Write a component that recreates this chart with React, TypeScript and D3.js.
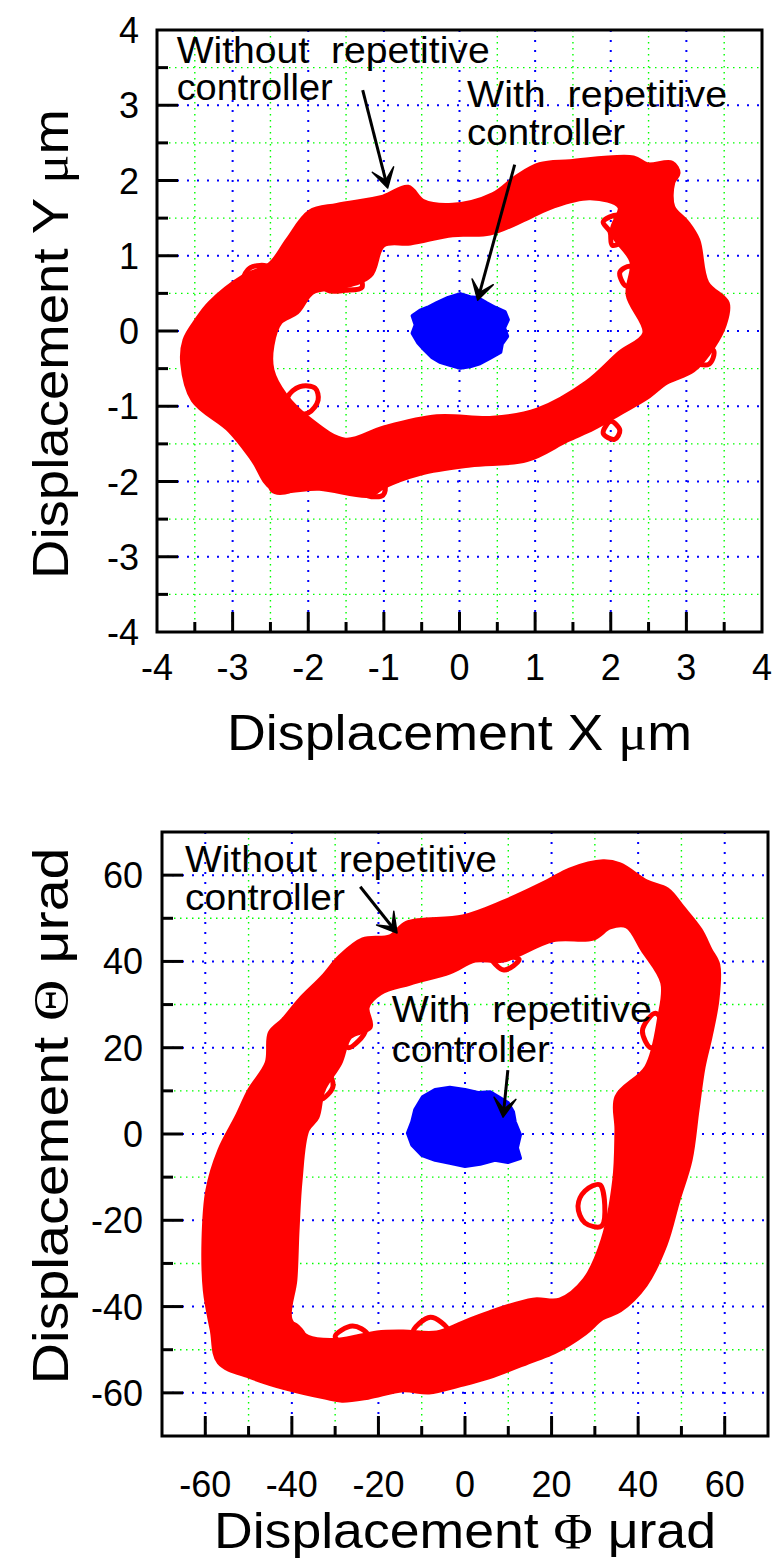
import React, { useEffect } from 'react';
import * as d3 from 'd3';

type Pt = [number, number];

// ---- panel 1: displacement X / Y (um) ----
const xyMajor = [-4, -3, -2, -1, 0, 1, 2, 3, 4];
const xyMinor = [-3.5, -2.5, -1.5, -0.5, 0.5, 1.5, 2.5, 3.5];

// outer edge of the red band (without repetitive controller)
const xyOuter: Pt[] = [
  [-3.47, 0.15], [-3.3, 0.37], [-2.86, 0.72], [-2.51, 0.88], [-2.27, 1.21], [-1.98, 1.58],
  [-1.62, 1.67], [-1.01, 1.78], [-0.68, 1.91], [-0.48, 1.72], [-0.09, 1.67], [0.44, 1.81],
  [0.76, 2.05], [1.06, 2.21], [1.46, 2.25], [2.3, 2.3], [2.48, 2.21], [2.81, 2.23],
  [2.89, 2.1], [2.82, 1.97], [2.82, 1.65], [3.01, 1.44], [3.15, 1.21], [3.27, 0.64],
  [3.54, 0.37], [3.5, 0.08], [3.35, -0.21], [3.09, -0.52], [2.74, -0.68], [2.48, -0.88],
  [2.12, -1.09], [1.77, -1.29], [1.42, -1.45], [0.89, -1.71], [0.14, -1.78], [-0.52, -1.89],
  [-1.01, -2.07], [-1.18, -2.18], [-1.85, -2.09], [-2.47, -2.09], [-2.73, -1.71],
  [-3.04, -1.32], [-3.52, -0.92], [-3.66, -0.43], [-3.63, -0.12],
];
// inner edge (hole)
const xyInner: Pt[] = [
  [-2.48, -0.19], [-2.37, 0.12], [-2.15, 0.25], [-1.94, 0.52], [-1.58, 0.58], [-1.18, 0.74],
  [-1.01, 1.14], [-0.65, 1.17], [-0.09, 1.28], [0.4, 1.3], [0.89, 1.5], [1.24, 1.66],
  [1.73, 1.77], [2.12, 1.65], [2.02, 1.32], [2.28, 0.92], [2.23, 0.48], [2.45, -0.03],
  [2.12, -0.29], [1.69, -0.68], [1.03, -1.05], [0.44, -1.16], [-0.3, -1.14], [-1.01, -1.29],
  [-1.51, -1.45], [-1.98, -1.18], [-2.31, -0.85], [-2.48, -0.52],
];
// small loops sticking out of the band
const xyLoops: Pt[][] = [
  [[-2.27, -0.88], [-2.11, -0.74], [-1.91, -0.76], [-1.87, -0.92], [-2.0, -1.09], [-2.2, -1.08]],
  [[-2.51, -1.82], [-2.34, -1.85], [-2.15, -2.05], [-2.31, -2.14], [-2.48, -2.11], [-2.51, -1.9]],
  [[-1.36, -2.07], [-1.16, -2.01], [-0.99, -2.05], [-1.01, -2.18], [-1.21, -2.19]],
  [[-2.24, 1.21], [-2.04, 1.29], [-1.87, 1.21], [-1.98, 1.05], [-2.18, 1.08]],
  [[-2.86, 0.68], [-2.77, 0.84], [-2.53, 0.85], [-2.61, 0.61], [-2.81, 0.57]],
  [[-1.81, 0.64], [-1.58, 0.72], [-1.34, 0.74], [-1.29, 0.58], [-1.51, 0.54], [-1.74, 0.54]],
  [[1.99, 1.32], [1.9, 1.45], [2.1, 1.54], [2.28, 1.41], [2.19, 1.21], [2.02, 1.14]],
  [[2.0, -1.2], [2.12, -1.32], [2.05, -1.44], [1.9, -1.36]],
  [[3.1, -0.2], [3.36, -0.26], [3.3, -0.44], [3.08, -0.4]],
  [[2.2, 0.6], [2.12, 0.78], [2.26, 0.86], [2.34, 0.7]],
  [[-3.55, -0.75], [-3.4, -0.62], [-3.3, -0.82], [-3.46, -0.95]],
];
// blue cluster (with repetitive controller)
const xyBlue: Pt[] = [
  [0.01, 0.49], [0.14, 0.45], [0.24, 0.44], [0.36, 0.37], [0.47, 0.31], [0.6, 0.25],
  [0.64, 0.15], [0.59, 0.04], [0.63, -0.07], [0.56, -0.17], [0.54, -0.28], [0.4, -0.36],
  [0.27, -0.43], [0.14, -0.47], [0.01, -0.49], [-0.13, -0.45], [-0.26, -0.41], [-0.36, -0.35],
  [-0.46, -0.25], [-0.55, -0.15], [-0.62, -0.03], [-0.58, 0.08], [-0.62, 0.2], [-0.52, 0.27],
  [-0.42, 0.31], [-0.3, 0.37], [-0.15, 0.44],
];

// ---- panel 2: displacement Phi / Theta (urad) ----
const angMajor = [-60, -40, -20, 0, 20, 40, 60];
const angMinor = [-50, -30, -10, 10, 30, 50];

const angOuter: Pt[] = [
  [-52.7, 3.9], [-49.7, 10.2], [-45.7, 16.5], [-45.0, 23.4], [-42.0, 26.4], [-38.1, 31.1],
  [-32.8, 36.4], [-28.9, 41.0], [-23.6, 45.0], [-17.3, 45.7], [-13.4, 48.9], [-0.5, 50.3],
  [8.8, 53.7], [18.9, 58.4], [24.2, 61.2], [31.9, 63.1], [35.8, 62.4], [42.0, 58.4],
  [46.7, 56.6], [50.3, 52.4], [54.3, 47.3], [56.6, 42.7], [58.4, 39.2], [58.2, 31.1],
  [56.6, 22.5], [55.0, 15.5], [53.6, 5.6], [52.0, -6.0], [49.2, -15.3], [46.2, -25.7],
  [41.6, -35.0], [35.8, -40.8], [31.6, -42.7], [27.7, -46.1], [20.6, -50.5], [15.7, -52.4],
  [5.5, -56.3], [-1.4, -58.2], [-8.3, -59.8], [-14.3, -59.3], [-22.4, -61.0], [-28.4, -61.7],
  [-32.3, -61.0], [-41.3, -58.9], [-49.4, -56.3], [-56.8, -52.9], [-58.4, -45.4],
  [-60.0, -36.2], [-60.3, -24.6], [-59.4, -13.0], [-56.6, -3.7],
];
const angInner: Pt[] = [
  [-36.5, 0.9], [-34.2, 3.9], [-32.8, 10.2], [-28.9, 16.5], [-26.6, 22.5], [-21.9, 24.8],
  [-22.6, 29.4], [-19.6, 32.7], [-12.7, 35.0], [-3.5, 37.6], [2.3, 40.3], [8.8, 40.3],
  [20.3, 45.0], [29.6, 45.4], [33.5, 48.0], [37.4, 48.2], [41.1, 42.7], [45.7, 35.0],
  [45.0, 27.1], [42.0, 15.5], [35.1, 8.6], [35.1, 0.9], [34.6, -10.7], [31.9, -24.6],
  [27.7, -33.8], [21.9, -38.5], [15.7, -38.5], [5.5, -41.5], [-0.5, -43.8], [-6.5, -46.1],
  [-14.3, -45.9], [-20.3, -46.1], [-29.3, -47.8], [-36.3, -47.1], [-40.4, -43.1],
  [-39.3, -33.8], [-38.8, -22.3], [-38.1, -10.7],
];
const angLoops: Pt[][] = [
  [[31.2, -11.8], [27.7, -13.2], [26.1, -16.7], [27.7, -20.6], [31.6, -21.3]],
  [[-30.0, -47.0], [-26.0, -44.5], [-22.5, -46.5], [-24.0, -50.0]],
  [[6.0, 41.0], [9.0, 38.0], [12.5, 40.5]],
  [[-44.0, -47.0], [-40.0, -44.0], [-37.0, -47.5], [-40.5, -50.0]],
  [[-12.0, -46.0], [-8.0, -42.5], [-4.0, -45.5], [-8.0, -48.0]],
  [[-33.5, 8.0], [-30.5, 11.0], [-32.0, 14.5], [-35.0, 12.0]],
  [[-27.0, 20.0], [-23.0, 24.0], [-25.0, 27.0], [-28.0, 24.0]],
  [[43.0, 20.0], [46.0, 24.0], [44.0, 28.0], [41.0, 24.0]],
  [[-57.0, -30.0], [-53.0, -27.0], [-54.0, -22.0], [-58.0, -24.0]],
];
const angBlue: Pt[] = [
  [-9.7, 8.6], [-6.9, 10.2], [-3.5, 10.7], [0, 10.2], [3.0, 9.5], [5.8, 9.7], [8.1, 8.3],
  [9.9, 7.2], [11.1, 5.1], [11.5, 2.8], [12.7, -0.2], [12.0, -3.2], [12.7, -5.6], [9.9, -6.5],
  [6.9, -6.0], [3.5, -6.9], [0, -7.4], [-3.5, -6.7], [-6.9, -6.0], [-9.9, -4.9],
  [-12.2, -2.5], [-13.2, 0.2], [-12.2, 2.8], [-11.5, 5.6],
];

const SANS = '"Liberation Sans", Arial, Helvetica, sans-serif';
const SERIF = '"Liberation Serif", "Times New Roman", serif';

interface Note { text: string; x: number; y: number; len: number }
interface Arrow { from: Pt; to: Pt }
interface PanelCfg {
  left: number; right: number; top: number; bottom: number;
  domain: [number, number];
  major: number[]; minor: number[];
  outer: Pt[]; inner: Pt[]; loops: Pt[][]; blue: Pt[];
  notes: Note[]; arrows: Arrow[];
  xTitle: [string, string, string]; yTitle: [string, string, string];
  xTitleY: number; xTitleLen: number; yTitleCy: number; yTitleLen: number;
  xLabelY: number; yLabelX: number;
}

const panels: PanelCfg[] = [
  {
    left: 157, right: 762, top: 30, bottom: 632, domain: [-4, 4],
    major: xyMajor, minor: xyMinor,
    outer: xyOuter, inner: xyInner, loops: xyLoops, blue: xyBlue,
    notes: [
      { text: 'Without\u00a0 repetitive', x: -3.74, y: 3.56, len: 313 },
      { text: 'controller', x: -3.74, y: 3.07, len: 156 },
      { text: 'With\u00a0 repetitive', x: 0.1, y: 2.98, len: 260 },
      { text: 'controller', x: 0.1, y: 2.47, len: 158 },
    ],
    arrows: [
      { from: [-1.28, 3.2], to: [-0.95, 1.9] },
      { from: [0.73, 2.21], to: [0.24, 0.41] },
    ],
    xTitle: ['Displacement X ', '\u03bc', 'm'],
    yTitle: ['Displacement Y ', '\u03bc', 'm'],
    xTitleY: 750, xTitleLen: 465, yTitleCy: 344, yTitleLen: 470,
    xLabelY: 680, yLabelX: 139,
  },
  {
    left: 162, right: 768, top: 832, bottom: 1436, domain: [-70, 70],
    major: angMajor, minor: angMinor,
    outer: angOuter, inner: angInner, loops: angLoops, blue: angBlue,
    notes: [
      { text: 'Without\u00a0 repetitive', x: -64.7, y: 60.7, len: 312 },
      { text: 'controller', x: -64.7, y: 51.9, len: 160 },
      { text: 'With\u00a0 repetitive', x: -16.9, y: 26.0, len: 260 },
      { text: 'controller', x: -16.9, y: 16.7, len: 158 },
    ],
    arrows: [
      { from: [-24.2, 57.3], to: [-15.7, 46.6] },
      { from: [9.9, 14.8], to: [8.8, 3.9] },
    ],
    xTitle: ['Displacement ', '\u03a6', ' \u03bcrad'],
    yTitle: ['Displacement ', '\u0398', ' \u03bcrad'],
    xTitleY: 1548, xTitleLen: 502, yTitleCy: 1116, yTitleLen: 537,
    xLabelY: 1497, yLabelX: 143,
  },
];

function ArrowMark({ a, x, y }: { a: Arrow; x: (v: number) => number; y: (v: number) => number }) {
  const x0 = x(a.from[0]), y0 = y(a.from[1]);
  const x1 = x(a.to[0]), y1 = y(a.to[1]);
  const d = Math.hypot(x1 - x0, y1 - y0);
  const ux = (x1 - x0) / d, uy = (y1 - y0) / d;
  const px = -uy, py = ux;
  const L = 19, W = 11, N = 8;
  const bx = x1 - L * ux, by = y1 - L * uy;
  const nx = x1 - N * ux, ny = y1 - N * uy;
  const head = `M${x1},${y1}L${bx + W * px},${by + W * py}L${nx},${ny}L${bx - W * px},${by - W * py}Z`;
  return (
    <g>
      <line x1={x0} y1={y0} x2={nx} y2={ny} stroke="#000" strokeWidth={3} />
      <path d={head} fill="#000" stroke="#000" strokeWidth={1.5} strokeLinejoin="round" />
    </g>
  );
}

function Panel({ c }: { c: PanelCfg }) {
  const x = d3.scaleLinear().domain(c.domain).range([c.left, c.right]);
  const y = d3.scaleLinear().domain(c.domain).range([c.bottom, c.top]);
  const closed = d3.line<Pt>().x(d => x(d[0])).y(d => y(d[1])).curve(d3.curveLinearClosed);
  const round = d3.line<Pt>().x(d => x(d[0])).y(d => y(d[1])).curve(d3.curveCatmullRomClosed.alpha(0.5));
  const band = (round(c.outer) || '') + (round(c.inner) || '');
  const inner = c.major.filter(v => v > c.domain[0] && v < c.domain[1]);
  const cx = (c.left + c.right) / 2;

  return (
    <g>
      {/* grid */}
      {c.minor.map(v => (
        <g key={'gm' + v} stroke="#00ff00" strokeWidth={1.4} strokeDasharray="1.5 4.5">
          <line x1={x(v)} x2={x(v)} y1={c.top} y2={c.bottom} />
          <line x1={c.left} x2={c.right} y1={y(v)} y2={y(v)} />
        </g>
      ))}
      {inner.map(v => (
        <g key={'gM' + v} stroke="#0000ff" strokeWidth={2} strokeDasharray="2 8">
          <line x1={x(v)} x2={x(v)} y1={c.top} y2={c.bottom} />
          <line x1={c.left} x2={c.right} y1={y(v)} y2={y(v)} />
        </g>
      ))}

      {/* red band */}
      <path d={band} fill="#ff0000" fillRule="evenodd" stroke="#ff0000" strokeWidth={5} strokeLinejoin="round" />
      {c.loops.map((l, i) => (
        <path key={'l' + i} d={round(l) || ''} fill="none" stroke="#ff0000" strokeWidth={5} strokeLinejoin="round" />
      ))}
      {/* blue cluster */}
      <path d={closed(c.blue) || ''} fill="#0000ff" stroke="#0000ff" strokeWidth={4} strokeLinejoin="round" />

      {/* frame & ticks */}
      <rect x={c.left} y={c.top} width={c.right - c.left} height={c.bottom - c.top} fill="none" stroke="#000" strokeWidth={3} />
      {inner.map(v => (
        <g key={'t' + v} stroke="#000" strokeWidth={3}>
          <line x1={x(v)} x2={x(v)} y1={c.bottom} y2={c.bottom - 20} />
          <line x1={c.left} x2={c.left + 21} y1={y(v)} y2={y(v)} />
        </g>
      ))}
      {c.minor.map(v => (
        <g key={'tm' + v} stroke="#000" strokeWidth={3}>
          <line x1={x(v)} x2={x(v)} y1={c.bottom} y2={c.bottom - 10} />
          <line x1={c.left} x2={c.left + 11} y1={y(v)} y2={y(v)} />
        </g>
      ))}

      {/* tick labels */}
      <g fontFamily={SANS} fontSize={36} fill="#000">
        {c.major.map(v => (
          <text key={'xl' + v} x={x(v)} y={c.xLabelY} textAnchor="middle">{String(v)}</text>
        ))}
        {c.major.map(v => (
          <text key={'yl' + v} x={c.yLabelX} y={y(v) + 13} textAnchor="end">{String(v)}</text>
        ))}
      </g>

      {/* axis titles */}
      <text x={cx} y={c.xTitleY} textAnchor="middle" fontFamily={SANS} fontSize={50}
        textLength={c.xTitleLen} lengthAdjust="spacingAndGlyphs">
        {c.xTitle[0]}<tspan fontFamily={SERIF}>{c.xTitle[1]}</tspan>{c.xTitle[2]}
      </text>
      <text transform={`translate(68,${c.yTitleCy}) rotate(-90)`} textAnchor="middle" fontFamily={SANS} fontSize={50}
        textLength={c.yTitleLen} lengthAdjust="spacingAndGlyphs">
        {c.yTitle[0]}<tspan fontFamily={SERIF}>{c.yTitle[1]}</tspan>{c.yTitle[2]}
      </text>

      {/* annotations */}
      {c.notes.map((n, i) => (
        <text key={'n' + i} x={x(n.x)} y={y(n.y)} fontFamily={SANS} fontSize={36}
          textLength={n.len} lengthAdjust="spacingAndGlyphs">{n.text}</text>
      ))}
      {c.arrows.map((a, i) => <ArrowMark key={'a' + i} a={a} x={x} y={y} />)}
    </g>
  );
}

export default function App() {
  useEffect(() => {
    document.body.style.margin = '0';
  }, []);
  return (
    <svg width={775} height={1561} viewBox="0 0 775 1561" style={{ display: 'block', background: '#fff' }}>
      <rect width={775} height={1561} fill="#fff" />
      {panels.map((p, i) => <Panel key={i} c={p} />)}
    </svg>
  );
}
